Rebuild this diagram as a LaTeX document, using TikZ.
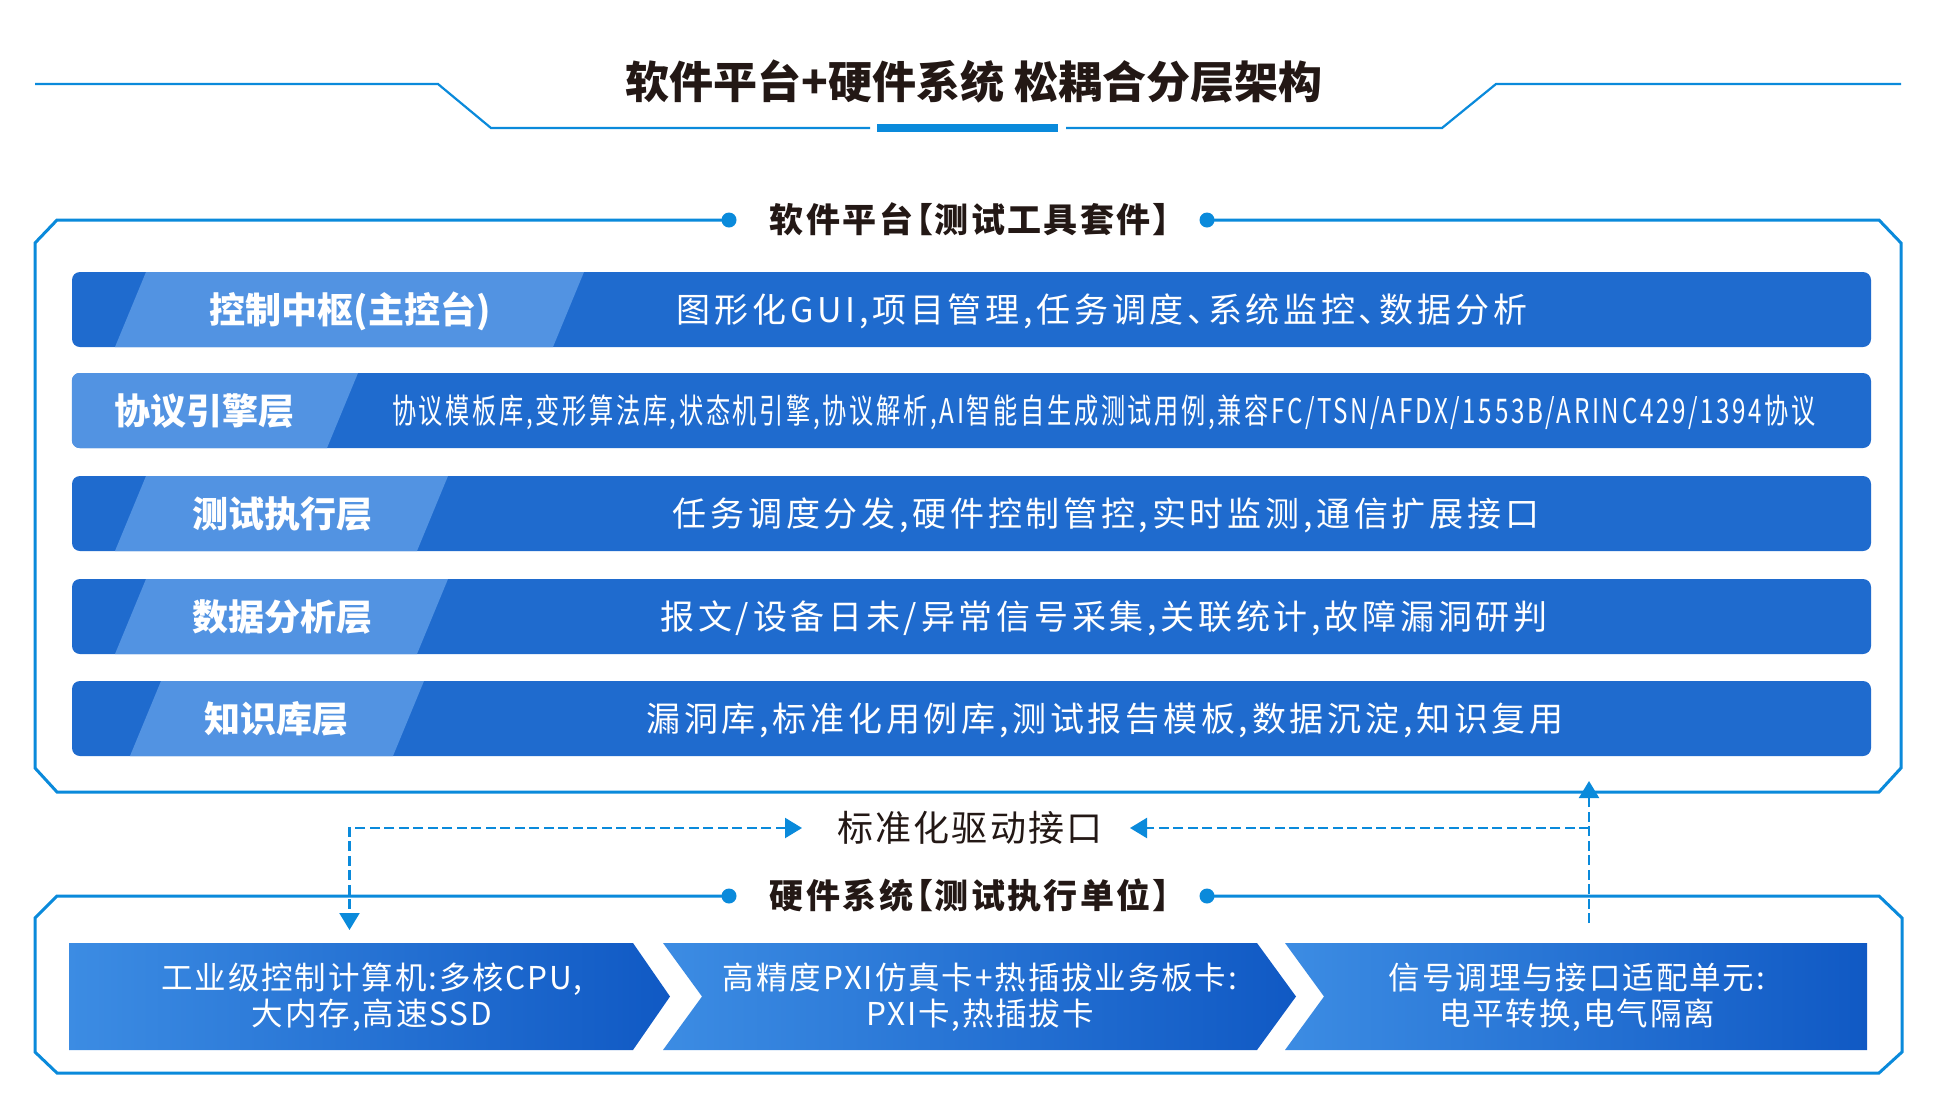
\documentclass[tikz,border=0pt]{standalone}
\usepackage{fontspec}
\setmainfont{Noto Sans CJK SC}
\newfontfamily\barfont[LetterSpace=11,RawFeature=+palt]{Noto Sans CJK SC}
\newfontfamily\hwfont[LetterSpace=6]{Noto Sans CJK SC}
\newfontfamily\secfont[LetterSpace=7,RawFeature=+palt]{Noto Sans CJK SC}
\newfontfamily\drvfont[LetterSpace=6]{Noto Sans CJK SC}
\usetikzlibrary{arrows.meta,calc}
\definecolor{frameblue}{HTML}{0A8ADB}
\definecolor{bardark}{HTML}{1F6BCE}
\definecolor{barlight}{HTML}{5293E2}
\definecolor{boxl}{HTML}{3C8CE3}
\definecolor{boxr}{HTML}{1059C4}
\definecolor{inkc}{HTML}{231815}
\tikzset{
  frameline/.style={draw=frameblue,line width=3pt},
  titleline/.style={draw=frameblue,line width=2.2pt},
  dashlink/.style={draw=frameblue,line width=2.2pt,dash pattern=on 10pt off 4.5pt},
  dotmark/.style={fill=frameblue},
  barbody/.style={fill=bardark,rounded corners=8pt,inner sep=0pt,minimum width=1799pt,minimum height=75pt},
  barlabel/.style={text=white,font=\fontsize{36}{42}\selectfont\bfseries,inner sep=0pt,text height=31.7pt,text depth=4.3pt},
  bartext/.style={text=white,font=\barfont\fontsize{34}{42}\selectfont,inner sep=0pt,text height=29.9pt,text depth=4.1pt},
  sectitle/.style={text=inkc,font=\secfont\fontsize{34}{40}\selectfont\bfseries,inner sep=0pt,text height=29.9pt,text depth=4.1pt},
  maintitle/.style={text=inkc,font=\fontsize{44}{52}\selectfont\bfseries,inner sep=0pt,text height=38.7pt,text depth=5.3pt},
  drvlabel/.style={text=inkc,font=\drvfont\fontsize{36}{42}\selectfont,inner sep=0pt,text height=31.7pt,text depth=4.3pt},
  hwbox/.style={left color=boxl,right color=boxr},
  hwtext/.style={text=white,font=\hwfont\fontsize{31.5}{36}\selectfont,align=center,inner sep=0pt},
  >={Triangle[length=17pt,width=20pt]}
}
\begin{document}
\begin{tikzpicture}[x=1pt,y=-1pt]
\useasboundingbox (0,0) rectangle (1936,1112);
\fill[white] (0,0) rectangle (1936,1112);

% ---------- main title ----------
\node[maintitle] (title) at (974,82) {软件平台+硬件系统 松耦合分层架构};
\draw[titleline] (35,84) -- (438,84) -- (491,128) -- (870,128);
\draw[titleline] (1066,128) -- (1442,128) -- (1496,84) -- (1901,84);
\fill[frameblue] (877,124) rectangle (1058,132);

% ---------- software frame ----------
\node[sectitle] (swtitle) at (970,220) {软件平台【测试工具套件】};
\coordinate (swdotL) at (729,220);
\coordinate (swdotR) at (1207,220);
\draw[frameline] (swdotL) -- (57,220) -- (35,243) -- (35,768) -- (57,792) -- (1879,792) -- (1901,768) -- (1901,243) -- (1879,220) -- (swdotR);
\fill[dotmark] (swdotL) circle (7.5);
\fill[dotmark] (swdotR) circle (7.5);

% bar 1
\node[barbody] (bar1) at (971.5,309.5) {};
\begin{scope}
  \clip[rounded corners=8pt] (bar1.north west) rectangle (bar1.south east);
  \fill[barlight] (146,272) -- (584,272) -- (553,347) -- (115,347) -- cycle;
\end{scope}
\node[barlabel] (lab1) at (350,309.5) {控制中枢(主控台)};
\node[bartext] (txt1) at (1102,309.5) {图形化GUI,项目管理,任务调度、系统监控、数据分析};

% bar 2
\node[barbody] (bar2) at (971.5,410.5) {};
\begin{scope}
  \clip[rounded corners=8pt] (bar2.north west) rectangle (bar2.south east);
  \fill[barlight] (60,373) -- (358,373) -- (327,448) -- (60,448) -- cycle;
\end{scope}
\node[barlabel] (lab2) at (204,410.5) {协议引擎层};
\node[bartext] (txt2) at (1104,410.5) {\resizebox{1424pt}{\height}{协议模板库,变形算法库,状态机引擎,协议解析,AI智能自生成测试用例,兼容FC/TSN/AFDX/1553B/ARINC429/1394协议}};

% bar 3
\node[barbody] (bar3) at (971.5,513.5) {};
\begin{scope}
  \clip[rounded corners=8pt] (bar3.north west) rectangle (bar3.south east);
  \fill[barlight] (146,476) -- (448,476) -- (417,551) -- (115,551) -- cycle;
\end{scope}
\node[barlabel] (lab3) at (282,513.5) {测试执行层};
\node[bartext] (txt3) at (1106,513.5) {任务调度分发,硬件控制管控,实时监测,通信扩展接口};

% bar 4
\node[barbody] (bar4) at (971.5,616.5) {};
\begin{scope}
  \clip[rounded corners=8pt] (bar4.north west) rectangle (bar4.south east);
  \fill[barlight] (146,579) -- (448,579) -- (417,654) -- (115,654) -- cycle;
\end{scope}
\node[barlabel] (lab4) at (282,616.5) {数据分析层};
\node[bartext] (txt4) at (1104,616.5) {报文/设备日未/异常信号采集,关联统计,故障漏洞研判};

% bar 5
\node[barbody] (bar5) at (971.5,718.5) {};
\begin{scope}
  \clip[rounded corners=8pt] (bar5.north west) rectangle (bar5.south east);
  \fill[barlight] (161,681) -- (424,681) -- (393,756) -- (130,756) -- cycle;
\end{scope}
\node[barlabel] (lab5) at (276,718.5) {知识库层};
\node[bartext] (txt5) at (1105,718.5) {漏洞库,标准化用例库,测试报告模板,数据沉淀,知识复用};

% ---------- driver interface ----------
\node[drvlabel] (drv) at (970,828) {标准化驱动接口};
\coordinate (drvL) at (802,828);
\coordinate (drvR) at (1130,828);
\coordinate (hwtop) at (349.5,930);
\coordinate (hwup) at (1589,923);
\coordinate (swbottom) at (1589,781);
\coordinate (junc) at (1589,828);

\draw[dashlink,<->] (drvL) -| (hwtop);
\draw[dashlink,->] (hwup) -- (swbottom);
\draw[dashlink,->] (junc) -- (drvR);

% ---------- hardware frame ----------
\node[sectitle] (hwtitle) at (970,896) {硬件系统【测试执行单位】};
\coordinate (hwdotL) at (729,896);
\coordinate (hwdotR) at (1207,896);
\draw[frameline] (hwdotL) -- (57,896) -- (35,918) -- (35,1052) -- (57,1073) -- (1879,1073) -- (1902,1052) -- (1902,918) -- (1879,896) -- (hwdotR);
\fill[dotmark] (hwdotL) circle (7.5);
\fill[dotmark] (hwdotR) circle (7.5);

% hardware boxes
\path[hwbox] (69,943) -- (633,943) -- (670,996.5) -- (633,1050) -- (69,1050) -- cycle;
\path[hwbox] (663,943) -- (1257,943) -- (1296,996.5) -- (1257,1050) -- (663,1050) -- (702,996.5) -- cycle;
\path[hwbox] (1285,943) -- (1867,943) -- (1867,1050) -- (1285,1050) -- (1324,996.5) -- cycle;

\node[hwtext] (hw1) at (372,997) {工业级控制计算机:多核CPU,\\大内存,高速SSD};
\node[hwtext] (hw2) at (980,997) {高精度PXI仿真卡+热插拔业务板卡:\\PXI卡,热插拔卡};
\node[hwtext] (hw3) at (1577,997) {信号调理与接口适配单元:\\电平转换,电气隔离};
\end{tikzpicture}
\end{document}
